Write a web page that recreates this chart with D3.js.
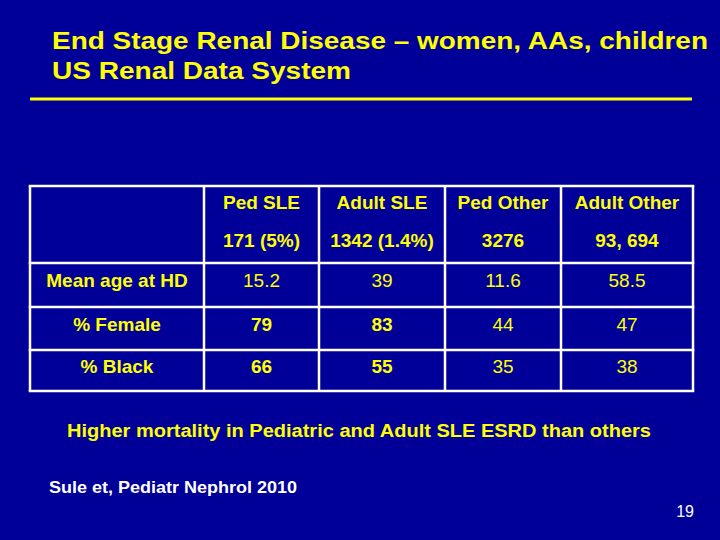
<!DOCTYPE html>
<html><head><meta charset="utf-8">
<script src="https://cdn.jsdelivr.net/npm/d3@7"></script>
<style>html,body{margin:0;padding:0;background:#000099;}svg{display:block;}</style>
</head><body>
<script>
const titleLines = ["End Stage Renal Disease \u2013 women, AAs, children", "US Renal Data System"];
const columns = ["Ped SLE", "Adult SLE", "Ped Other", "Adult Other"];
const counts = ["171 (5%)", "1342 (1.4%)", "3276", "93, 694"];
const rowLabels = ["Mean age at HD", "% Female", "% Black"];
const meanAge = ["15.2", "39", "11.6", "58.5"];
const pctFemale = ["79", "83", "44", "47"];
const pctBlack = ["66", "55", "35", "38"];
const rowBold = [false, true, true];
const note = "Higher mortality in Pediatric and Adult SLE ESRD than others";
const citation = "Sule et, Pediatr Nephrol 2010";
const pageNum = "19";

const W = 720, H = 540, YEL = "#ffff00", BG = "#000099";
const svg = d3.select("body").append("svg").attr("width", W).attr("height", H);
svg.append("rect").attr("width", W).attr("height", H).attr("fill", BG);
const font = "Liberation Sans, Arial, sans-serif";

// title
const titleFit = [[52, 48.5, 656], [52, 78.5, 299]];
svg.selectAll("text.title").data(titleLines).join("text").attr("class", "title")
  .attr("x", (d, i) => titleFit[i][0]).attr("y", (d, i) => titleFit[i][1])
  .attr("textLength", (d, i) => titleFit[i][2]).attr("lengthAdjust", "spacingAndGlyphs")
  .attr("font-family", font).attr("font-weight", "bold").attr("font-size", 24.5).attr("fill", YEL).text(d => d);
svg.append("rect").attr("x", 30).attr("y", 97.5).attr("width", 662).attr("height", 3).attr("fill", YEL);

// table grid
const colEdges = [30, 204, 319, 445, 561, 693];
const rowEdges = [186, 263, 307, 350, 391];
const g = svg.append("g");
const xCenter = i => (colEdges[i + 1] + colEdges[i + 2]) / 2;

g.selectAll("line.v").data(colEdges).join("line").attr("class", "v")
  .attr("x1", d => d).attr("x2", d => d).attr("y1", rowEdges[0]).attr("y2", rowEdges[rowEdges.length - 1])
  .attr("stroke", "#fff").attr("stroke-width", 2.5);
g.selectAll("line.h").data(rowEdges).join("line").attr("class", "h")
  .attr("y1", d => d).attr("y2", d => d).attr("x1", colEdges[0] - 1.25).attr("x2", colEdges[colEdges.length - 1] + 1.25)
  .attr("stroke", "#fff").attr("stroke-width", 2.5);

// header
g.selectAll("text.col").data(columns).join("text").attr("class", "col")
  .attr("x", (d, i) => xCenter(i)).attr("y", 209).attr("text-anchor", "middle")
  .attr("font-family", font).attr("font-weight", "bold").attr("font-size", 19).attr("fill", YEL).text(d => d);
g.selectAll("text.cnt").data(counts).join("text").attr("class", "cnt")
  .attr("x", (d, i) => xCenter(i)).attr("y", 247).attr("text-anchor", "middle")
  .attr("font-family", font).attr("font-weight", "bold").attr("font-size", 19).attr("fill", YEL).text(d => d);

// body rows
const rows = [meanAge, pctFemale, pctBlack];
const rowBase = [287, 331, 373];
g.selectAll("text.rl").data(rowLabels).join("text").attr("class", "rl")
  .attr("x", (colEdges[0] + colEdges[1]) / 2).attr("y", (d, i) => rowBase[i]).attr("text-anchor", "middle")
  .attr("font-family", font).attr("font-weight", "bold").attr("font-size", 19).attr("fill", YEL).text(d => d);
rows.forEach((vals, r) => {
  g.selectAll("text.v" + r).data(vals).join("text").attr("class", "v" + r)
    .attr("x", (d, i) => xCenter(i)).attr("y", rowBase[r]).attr("text-anchor", "middle")
    .attr("font-family", font).attr("font-weight", (d, i) => (rowBold[r] && i < 2) ? "bold" : "normal")
    .attr("font-size", 19).attr("fill", YEL).text(d => d);
});

// footer
svg.append("text").attr("x", 67).attr("y", 437).attr("textLength", 584).attr("lengthAdjust", "spacingAndGlyphs")
  .attr("font-family", font).attr("font-weight", "bold").attr("font-size", 18).attr("fill", YEL).text(note);
svg.append("text").attr("x", 49).attr("y", 493).attr("textLength", 248).attr("lengthAdjust", "spacingAndGlyphs")
  .attr("font-family", font).attr("font-weight", "bold").attr("font-size", 16.5).attr("fill", "#fff").text(citation);
svg.append("text").attr("x", 694).attr("y", 517).attr("text-anchor", "end")
  .attr("font-family", font).attr("font-size", 16).attr("fill", "#fff").text(pageNum);
</script>
</body></html>
